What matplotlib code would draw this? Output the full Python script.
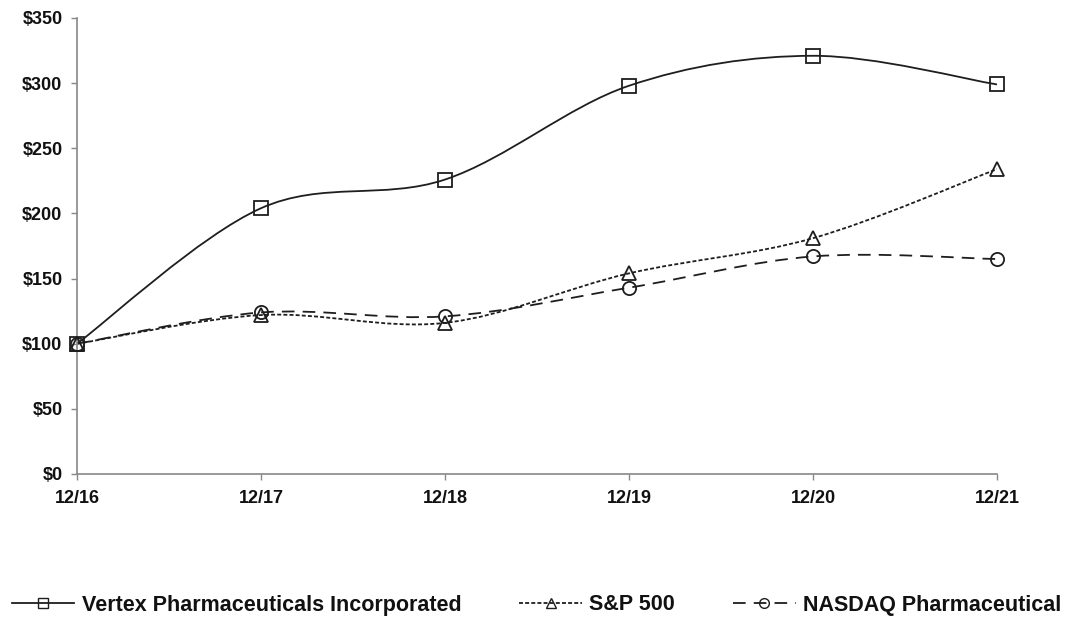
import numpy as np
import matplotlib.pyplot as plt
from matplotlib.path import Path
from matplotlib.patches import PathPatch
from matplotlib.lines import Line2D

years = ['12/16', '12/17', '12/18', '12/19', '12/20', '12/21']
vertex = [100, 204, 226, 298, 321, 299]
sp500 = [100, 122, 116, 154, 181, 234]
nasdaq = [100, 124, 121, 143, 167, 165]

plt.rcParams['font.family'] = ['Liberation Sans', 'DejaVu Sans']
plt.rcParams['font.weight'] = 'bold'


def smooth_path(x, y):
    # Excel-like smoothed line as cubic bezier segments through the points
    pts = np.column_stack([x, y]).astype(float)
    ext = np.vstack([pts[0], pts, pts[-1]])
    verts = [pts[0]]
    codes = [Path.MOVETO]
    for i in range(1, len(ext) - 2):
        p0, p1, p2, p3 = ext[i - 1], ext[i], ext[i + 1], ext[i + 2]
        c1 = p1 + (p2 - p0) / 6
        c2 = p2 - (p3 - p1) / 6
        verts += [c1, c2, p2]
        codes += [Path.CURVE4] * 3
    return Path(verts, codes)


fig = plt.figure(figsize=(10.73, 6.2), dpi=100)
ax = fig.add_axes([77 / 1073, 1 - 474 / 620, 920 / 1073, 456 / 620])

x = np.arange(len(years))
col = '#1e1e1e'
series = [
    (vertex, '-', 's', 'Vertex Pharmaceuticals Incorporated'),
    (sp500, (0, (2.2, 1.2)), '^', 'S&P 500'),
    (nasdaq, (0, (7, 4.5)), 'o', 'NASDAQ Pharmaceutical'),
]
handles = []
for vals, ls, mk, lab in series:
    ax.add_patch(PathPatch(smooth_path(x, vals), fill=False, edgecolor=col,
                           linestyle=ls, linewidth=1.3))
    ax.plot(x, vals, linestyle='none', marker=mk, markersize=9.5, clip_on=False,
            markerfacecolor='none', markeredgecolor=col, markeredgewidth=1.3,
            zorder=3)
    handles.append(Line2D([], [], color=col, linestyle=ls, linewidth=1.3,
                          marker=mk, markersize=7, markerfacecolor='none',
                          markeredgecolor=col, label=lab))

ax.set_xlim(0, len(years) - 1)
ax.set_ylim(0, 350)
ax.set_xticks(x)
ax.set_xticklabels(years)
ax.set_yticks(range(0, 351, 50))
ax.set_yticklabels([f'${v}' for v in range(0, 351, 50)])
ax.tick_params(axis='both', labelsize=13, color='#888888', length=4.5, width=1,
               labelcolor='#111111')
ax.tick_params(axis='y', pad=6)
ax.tick_params(axis='x', pad=7)
for s in ['top', 'right']:
    ax.spines[s].set_visible(False)
for s in ['left', 'bottom']:
    ax.spines[s].set_color('#888888')
    ax.spines[s].set_linewidth(1.2)

fig.legend(handles=handles, loc='center', bbox_to_anchor=(0.5, 1 - 605 / 620),
           ncol=3, frameon=False, fontsize=15.5, handlelength=2.9,
           columnspacing=2.7, handletextpad=0.35, labelcolor='#111111')

fig.savefig('out.png', dpi=100)
